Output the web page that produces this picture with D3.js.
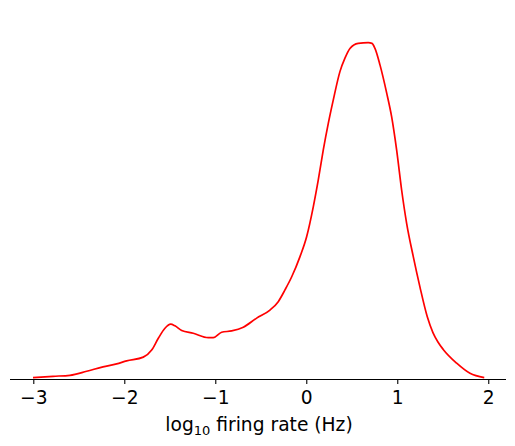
<!DOCTYPE html>
<html><head><meta charset="utf-8">
<script src="https://cdn.jsdelivr.net/npm/d3@7"></script>
<style>body{margin:0;background:#fff}svg{display:block}text{font-family:"DejaVu Sans",sans-serif;fill:#000}</style>
</head><body><svg id="c" width="515" height="446"></svg>
<script>
const logRate = [-3.003,-2.784,-2.597,-2.413,-2.234,-2.084,-1.974,-1.791,-1.699,-1.626,-1.553,-1.490,-1.443,-1.369,-1.242,-1.077,-1.022,-0.930,-0.820,-0.692,-0.545,-0.399,-0.308,-0.234,-0.160,-0.069,0.004,0.077,0.132,0.187,0.242,0.297,0.370,0.425,0.480,0.571,0.681,0.722,0.755,0.810,0.884,0.938,0.993,1.048,1.103,1.176,1.249,1.330,1.392,1.447,1.505,1.653,1.799,1.956];
const density = [0.004,0.008,0.011,0.023,0.036,0.045,0.054,0.065,0.086,0.121,0.151,0.163,0.158,0.144,0.136,0.123,0.123,0.139,0.143,0.154,0.181,0.205,0.230,0.265,0.304,0.364,0.423,0.512,0.592,0.681,0.760,0.830,0.914,0.954,0.983,0.998,1.000,0.998,0.983,0.934,0.850,0.780,0.681,0.562,0.463,0.364,0.274,0.185,0.138,0.110,0.088,0.047,0.017,0.004];
const tickValues = [-3,-2,-1,0,1,2];
const xLabel = "log";
const xLabelSub = "10";
const xLabelRest = " firing rate (Hz)";

const svg = d3.select("#c");
const x = d3.scaleLinear().domain([-3.256, 2.195]).range([10, 506]);
const y = d3.scaleLinear().domain([0, 1]).range([379, 42.7]);

const data = logRate.map((v,i)=>({x:v,y:density[i]}));
svg.append("path").datum(data)
  .attr("fill","none").attr("stroke","#ff0000").attr("stroke-width",1.7)
  .attr("stroke-linejoin","round")
  .attr("d", d3.line().x(d=>x(d.x)).y(d=>y(d.y)).curve(d3.curveMonotoneX));

const ax = svg.append("g").attr("transform","translate(0,379)")
  .call(d3.axisBottom(x).tickValues(tickValues).tickSize(5)
    .tickFormat(d=>d<0?"\u2212"+Math.abs(d):String(d)));
ax.select(".domain").attr("stroke","#000").attr("stroke-width",1.1).attr("d","M10,0.5H506");
ax.selectAll(".tick line").attr("stroke","#000").attr("stroke-width",1.1);
ax.selectAll(".tick text").attr("font-size",18.67).attr("fill","#000").attr("font-family","DejaVu Sans")
  .attr("y",25).attr("dy",0);

const lbl = svg.append("text").attr("x",259).attr("y",431).attr("text-anchor","middle").attr("font-size",18.67);
lbl.append("tspan").text(xLabel);
lbl.append("tspan").attr("font-size",13).attr("dy",4).text(xLabelSub);
lbl.append("tspan").attr("dy",-4).text(xLabelRest);
</script></body></html>
